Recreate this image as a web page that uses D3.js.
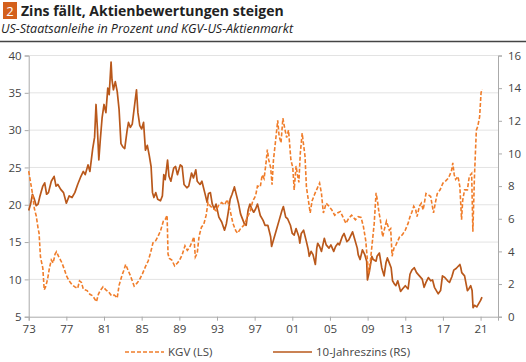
<!DOCTYPE html>
<html lang="de">
  <head>
    <meta charset="utf-8">
    <title>Zins fällt, Aktienbewertungen steigen</title>
    <script src="https://d3js.org/d3.v7.min.js"></script>
    <style>
      body { margin: 0; background: #fff; }
      svg { font-family: "Open Sans", sans-serif; }
      .tick text { fill: #444; font-size: 11.5px; }
      .grid line { stroke: #e3e3e3; }
    </style>
  </head>
  <body>
    <svg width="526" height="362"></svg>

    <script>
      // Werte: [Jahr, Wert]
      var kgv = [[1973.0,24.5],[1973.2,23.0],[1973.4,21.5],[1973.6,19.5],[1973.8,18.5],[1974.0,16.8],[1974.1,16.2],
        [1974.25,13.0],[1974.5,11.5],[1974.65,8.6],[1974.8,9.0],[1975.0,10.0],[1975.2,11.5],[1975.4,12.6],[1975.6,12.2],
        [1975.8,13.4],[1975.95,13.7],[1976.2,13.0],[1976.5,12.3],[1976.8,11.3],[1977.0,10.5],[1977.3,9.8],[1977.6,9.3],
        [1977.9,9.0],[1978.2,8.8],[1978.4,9.8],[1978.6,9.6],[1978.8,8.7],[1979.2,8.5],[1979.5,8.0],[1979.8,7.8],
        [1980.2,7.0],[1980.4,8.0],[1980.6,8.5],[1980.9,9.0],[1981.2,8.6],[1981.5,8.3],[1981.8,7.8],[1982.1,7.9],
        [1982.4,7.5],[1982.6,9.2],[1982.9,10.5],[1983.1,11.2],[1983.3,12.0],[1983.5,11.4],[1983.8,10.5],[1984.2,9.1],
        [1984.5,9.5],[1984.75,9.9],[1985.1,10.8],[1985.4,11.7],[1985.7,12.5],[1985.95,13.6],[1986.2,14.9],[1986.5,15.2],
        [1986.75,15.8],[1987.0,16.5],[1987.3,17.8],[1987.5,18.0],[1987.7,18.6],[1987.8,13.4],[1987.95,12.8],[1988.2,12.6],
        [1988.5,11.8],[1988.8,12.2],[1989.0,12.5],[1989.3,13.3],[1989.6,14.5],[1989.85,13.9],[1990.1,14.3],[1990.4,15.2],
        [1990.55,15.7],[1990.7,13.0],[1990.9,13.5],[1991.1,15.8],[1991.35,17.0],[1991.6,17.4],[1991.85,18.6],[1992.05,20.3],
        [1992.3,19.8],[1992.6,19.5],[1992.9,19.2],[1993.2,20.0],[1993.5,20.3],[1993.8,20.0],[1994.1,20.7],[1994.4,19.2],
        [1994.7,17.5],[1995.0,16.5],[1995.2,16.2],[1995.5,16.8],[1995.9,17.3],[1996.2,18.3],[1996.5,19.0],[1996.8,20.5],
        [1997.1,21.2],[1997.3,22.5],[1997.6,22.4],[1997.8,24.0],[1998.0,23.5],[1998.2,25.5],[1998.35,27.4],[1998.5,26.0],
        [1998.7,25.0],[1998.85,22.7],[1999.0,26.0],[1999.2,28.3],[1999.45,31.3],[1999.6,29.2],[1999.8,28.3],[2000.0,31.6],
        [2000.2,30.2],[2000.4,29.0],[2000.6,30.0],[2000.85,26.0],[2001.05,25.0],[2001.2,22.0],[2001.4,25.2],[2001.55,24.0],
        [2001.7,23.0],[2001.85,26.9],[2002.05,29.6],[2002.2,28.0],[2002.35,26.5],[2002.5,22.4],[2002.65,21.1],[2002.9,18.9],
        [2003.1,20.5],[2003.4,21.5],[2003.65,22.2],[2003.9,22.9],[2004.1,21.5],[2004.3,18.9],[2004.6,20.2],[2004.9,19.8],
        [2005.2,19.3],[2005.5,18.6],[2005.8,18.9],[2006.1,19.1],[2006.4,18.3],[2006.7,17.5],[2007.0,18.2],[2007.3,18.6],
        [2007.7,18.0],[2008.0,18.4],[2008.3,18.3],[2008.55,17.1],[2008.8,15.2],[2008.95,13.0],[2009.1,10.8],[2009.3,12.5],
        [2009.5,15.0],[2009.7,17.5],[2009.9,21.6],[2010.05,20.5],[2010.2,19.0],[2010.35,18.0],[2010.6,15.7],[2010.8,16.8],
        [2011.0,17.8],[2011.3,16.6],[2011.45,16.8],[2011.6,13.1],[2011.8,14.2],[2012.0,14.6],[2012.4,15.7],[2012.7,16.0],
        [2013.0,16.6],[2013.3,17.5],[2013.5,18.4],[2013.7,19.0],[2013.9,19.8],[2014.1,19.4],[2014.25,18.4],[2014.5,19.8],
        [2014.7,20.2],[2014.9,19.3],[2015.2,21.5],[2015.5,21.3],[2015.7,21.1],[2016.0,18.9],[2016.2,20.3],[2016.4,21.5],
        [2016.7,22.0],[2017.0,22.9],[2017.3,23.2],[2017.6,23.6],[2017.9,24.5],[2018.05,25.6],[2018.2,24.0],[2018.35,23.4],
        [2018.6,23.8],[2018.8,22.4],[2018.98,18.0],[2019.1,20.6],[2019.3,22.0],[2019.6,22.0],[2019.8,23.8],[2020.05,24.2],
        [2020.18,16.4],[2020.35,23.8],[2020.55,30.0],[2020.7,30.5],[2020.9,31.8],[2021.05,35.0],[2021.15,35.5]];

      var zins = [[1973.0,6.5],[1973.2,6.9],[1973.4,7.5],[1973.6,7.2],[1973.8,6.8],[1974.0,6.9],[1974.2,7.4],[1974.5,8.0],
        [1974.7,8.2],[1974.9,7.5],[1975.1,7.6],[1975.4,8.3],[1975.7,8.6],[1975.9,8.0],[1976.1,8.1],[1976.4,7.8],
        [1976.7,7.6],[1977.0,6.95],[1977.3,7.4],[1977.6,7.3],[1977.9,7.6],[1978.2,8.1],[1978.55,8.6],[1978.8,8.9],
        [1979.0,8.7],[1979.3,9.3],[1979.5,8.9],[1979.8,10.3],[1980.0,11.0],[1980.15,13.0],[1980.3,11.5],[1980.45,9.6],
        [1980.6,10.8],[1980.8,12.2],[1981.0,13.0],[1981.2,12.5],[1981.4,14.0],[1981.55,13.6],[1981.75,15.6],[1981.85,14.5],
        [1982.0,13.9],[1982.2,14.4],[1982.4,13.8],[1982.6,12.7],[1982.8,10.6],[1983.0,10.4],[1983.2,10.3],[1983.45,11.4],
        [1983.6,11.9],[1983.8,11.6],[1984.0,11.8],[1984.3,13.2],[1984.45,13.9],[1984.6,12.5],[1984.8,11.7],[1985.0,11.5],
        [1985.2,11.9],[1985.4,10.2],[1985.6,10.5],[1985.8,9.9],[1986.0,9.2],[1986.15,7.6],[1986.3,7.3],[1986.5,7.6],
        [1986.7,7.2],[1987.0,7.1],[1987.2,7.4],[1987.35,8.7],[1987.5,8.4],[1987.75,9.6],[1987.9,8.6],[1988.1,8.3],
        [1988.4,9.1],[1988.6,9.2],[1988.8,8.7],[1989.1,9.3],[1989.3,9.2],[1989.5,8.1],[1989.8,7.9],[1990.0,8.0],
        [1990.3,8.8],[1990.5,8.5],[1990.75,9.0],[1990.9,8.3],[1991.2,8.1],[1991.4,8.3],[1991.7,7.6],[1991.95,7.0],
        [1992.1,7.55],[1992.3,7.6],[1992.5,6.9],[1992.7,6.6],[1992.9,6.9],[1993.2,6.1],[1993.5,5.8],[1993.8,5.3],
        [1994.0,5.7],[1994.2,6.4],[1994.4,7.2],[1994.6,7.5],[1994.85,7.95],[1995.0,7.6],[1995.3,6.9],[1995.5,6.3],
        [1995.9,5.7],[1996.1,5.6],[1996.3,6.5],[1996.5,6.9],[1996.7,6.6],[1996.9,6.4],[1997.1,6.6],[1997.3,6.9],
        [1997.6,6.2],[1997.9,5.9],[1998.1,5.6],[1998.4,5.6],[1998.7,4.9],[1998.8,4.3],[1999.0,4.7],[1999.3,5.3],
        [1999.6,5.9],[1999.9,6.5],[2000.05,6.75],[2000.3,6.1],[2000.5,6.0],[2000.8,5.6],[2001.0,5.1],[2001.2,5.0],
        [2001.4,5.4],[2001.7,4.9],[2001.8,4.5],[2001.95,5.1],[2002.2,5.3],[2002.5,4.6],[2002.7,4.1],[2002.8,3.7],
        [2003.0,4.0],[2003.2,3.8],[2003.45,3.2],[2003.6,4.2],[2003.7,4.5],[2003.9,4.3],[2004.1,4.0],[2004.4,4.8],
        [2004.6,4.4],[2004.9,4.2],[2005.1,4.4],[2005.4,4.0],[2005.6,4.3],[2005.85,4.5],[2006.0,4.4],[2006.3,4.9],
        [2006.5,5.1],[2006.8,4.6],[2007.0,4.7],[2007.4,5.2],[2007.6,4.8],[2007.9,4.2],[2008.0,3.8],[2008.2,3.5],
        [2008.45,4.1],[2008.7,3.8],[2008.9,3.4],[2008.98,2.25],[2009.2,2.8],[2009.45,3.7],[2009.6,3.5],[2009.9,3.4],
        [2010.0,3.7],[2010.25,3.9],[2010.5,3.0],[2010.75,2.5],[2010.95,3.3],[2011.1,3.6],[2011.3,3.3],[2011.5,3.0],
        [2011.65,2.2],[2011.85,2.0],[2012.0,1.9],[2012.2,2.2],[2012.5,1.55],[2012.7,1.7],[2013.0,1.9],[2013.3,1.7],
        [2013.5,2.6],[2013.7,2.85],[2013.95,3.0],[2014.2,2.7],[2014.5,2.5],[2014.8,2.3],[2015.0,1.8],[2015.2,2.1],
        [2015.45,2.4],[2015.7,2.2],[2015.9,2.25],[2016.1,1.8],[2016.5,1.4],[2016.75,1.6],[2016.95,2.5],[2017.2,2.4],
        [2017.5,2.2],[2017.7,2.1],[2017.95,2.45],[2018.15,2.85],[2018.4,2.95],[2018.8,3.2],[2018.9,3.0],[2019.0,2.7],
        [2019.3,2.5],[2019.6,1.6],[2019.75,1.7],[2019.95,1.9],[2020.1,1.6],[2020.2,0.55],[2020.35,0.7],[2020.6,0.6],
        [2020.8,0.8],[2021.0,1.0],[2021.15,1.2]];

      var xTicks = d3.range(1973, 2022, 4);
      var leftTicks = [5, 10, 15, 20, 25, 30, 35, 40];
      var rightTicks = [0, 2, 4, 6, 8, 10, 12, 14, 16];

      var svg = d3.select("svg");
      var plotLeft = 28.7, plotRight = 498, plotTop = 55.5, plotBottom = 316.7;

      var x = d3.scaleLinear().domain([1973, 2022.85]).range([plotLeft, plotRight]);
      var yL = d3.scaleLinear().domain([5, 40]).range([plotBottom, plotTop]);
      var yR = d3.scaleLinear().domain([0, 16]).range([plotBottom, plotTop]);

      // Titel
      svg.append("rect").attr("x", 3).attr("y", 2).attr("width", 14).attr("height", 17).attr("fill", "#d4601c");
      svg.append("text").attr("x", 10).attr("y", 15.5).attr("text-anchor", "middle")
         .attr("fill", "#fff").attr("font-size", 13).text("2");
      svg.append("text").attr("x", 21).attr("y", 15.5).attr("font-size", 14).attr("font-weight", "bold")
         .attr("fill", "#222").text("Zins fällt, Aktienbewertungen steigen");
      svg.append("text").attr("x", 1).attr("y", 33).attr("font-size", 12.5).attr("font-style", "italic")
         .attr("fill", "#222").text("US-Staatsanleihe in Prozent und KGV-US-Aktienmarkt");
      svg.append("line").attr("x1", 0).attr("x2", 526).attr("y1", 41.5).attr("y2", 41.5)
         .attr("stroke", "#444").attr("stroke-width", 1.5);

      // Gitter
      svg.append("g").attr("class", "grid")
         .selectAll("line").data(leftTicks.slice(1)).enter().append("line")
         .attr("x1", plotLeft).attr("x2", plotRight)
         .attr("y1", function(d){ return yL(d); }).attr("y2", function(d){ return yL(d); });

      // Achsen
      var gL = svg.append("g").attr("transform", "translate(" + plotLeft + ",0)")
                  .call(d3.axisLeft(yL).tickValues(leftTicks).tickSize(4).tickPadding(3));
      var gR = svg.append("g").attr("transform", "translate(" + plotRight + ",0)")
                  .call(d3.axisRight(yR).tickValues(rightTicks).tickSize(4).tickPadding(6));
      var gX = svg.append("g").attr("transform", "translate(0," + plotBottom + ")")
                  .call(d3.axisBottom(x).tickValues(xTicks).tickSize(4).tickPadding(4)
                  .tickFormat(function(d){ return String(d % 100).padStart(2, "0"); }));
      [gL, gR, gX].forEach(function(g){
        g.select(".domain").attr("stroke", "#aaa");
        g.selectAll(".tick line").attr("stroke", "#aaa");
        g.selectAll(".tick text").attr("font-family", "Open Sans");
      });

      // Linien
      var lineL = d3.line().x(function(d){ return x(d[0]); }).y(function(d){ return yL(d[1]); });
      var lineR = d3.line().x(function(d){ return x(d[0]); }).y(function(d){ return yR(d[1]); });

      svg.append("path").datum(zins).attr("d", lineR).attr("fill", "none")
         .attr("stroke", "#b9581b").attr("stroke-width", 1.7).attr("stroke-linejoin", "round");
      svg.append("path").datum(kgv).attr("d", lineL).attr("fill", "none")
         .attr("stroke", "#f07d2a").attr("stroke-width", 1.6).attr("stroke-dasharray", "4,2");

      // Legende
      var leg = svg.append("g").attr("font-size", 11.5).attr("fill", "#444");
      leg.append("line").attr("x1", 125).attr("x2", 164).attr("y1", 352).attr("y2", 352)
         .attr("stroke", "#f07d2a").attr("stroke-width", 1.6).attr("stroke-dasharray", "4,2");
      leg.append("text").attr("x", 168).attr("y", 356).text("KGV (LS)");
      leg.append("line").attr("x1", 273).attr("x2", 312).attr("y1", 352).attr("y2", 352)
         .attr("stroke", "#b9581b").attr("stroke-width", 1.7);
      leg.append("text").attr("x", 316).attr("y", 356).text("10-Jahreszins (RS)");
    </script>
  </body>
</html>
